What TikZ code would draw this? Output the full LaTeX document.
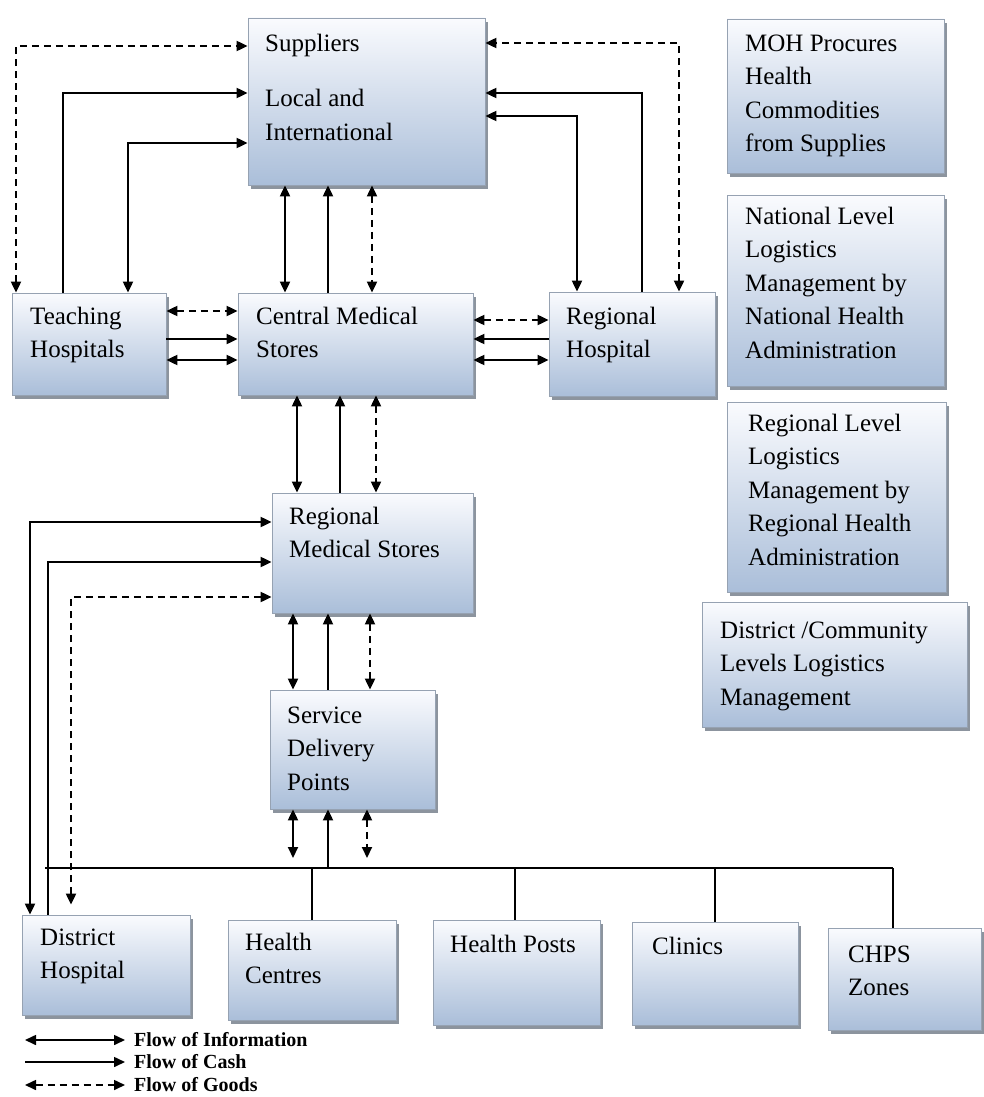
\documentclass[tikz,border=0pt]{standalone}
\usepackage{fontspec}
\setmainfont{Liberation Serif}
\usetikzlibrary{arrows.meta,fit,shadows}
\definecolor{boxtop}{RGB}{250,251,254}
\definecolor{boxbot}{RGB}{170,190,217}
\definecolor{boxline}{RGB}{150,162,178}
\definecolor{shadowc}{RGB}{128,136,148}
\newcommand\tstrut{\rule{0pt}{18pt}}
\tikzset{
 box/.style={draw=boxline, line width=0.8pt, top color=boxtop, bottom color=boxbot, inner sep=0pt,
   drop shadow={shadow xshift=2.5pt, shadow yshift=-4pt, fill=shadowc, opacity=0.9}},
 txt/.style={anchor=north west, inner sep=0pt, align=left, font=\fontsize{25}{33.5}\selectfont, text=black},
 flow/.style={line width=2pt, >={Triangle[length=11pt,width=10pt]}},
 info/.style={flow,<->},
 cash/.style={flow,->},
 goods/.style={flow,<->,dash pattern=on 7pt off 5pt},
 tie/.style={line width=1.8pt},
 legtxt/.style={anchor=west, inner sep=0pt, font=\fontsize{20}{22}\selectfont\bfseries},
}
\begin{document}
\begin{tikzpicture}[x=1pt,y=-1pt]
\useasboundingbox (0,0) rectangle (984,1097);
% boxes
\node[box, fit={(248,18) (485,185)}] (sup) {};
\node[box, fit={(727,19) (944,173)}] (moh) {};
\node[box, fit={(727,195) (944,386)}] (nat) {};
\node[box, fit={(727,402) (946,592)}] (reg) {};
\node[box, fit={(702,602) (967,727)}] (dist) {};
\node[box, fit={(12,293) (166,395)}] (th) {};
\node[box, fit={(238,293) (473,395)}] (cms) {};
\node[box, fit={(549,292) (715,396)}] (rh) {};
\node[box, fit={(272,493) (473,613)}] (rms) {};
\node[box, fit={(270,690) (435,809)}] (sdp) {};
\node[box, fit={(22,915) (190,1015)}] (dh) {};
\node[box, fit={(228,920) (396,1020)}] (hc) {};
\node[box, fit={(433,920) (600,1025)}] (hp) {};
\node[box, fit={(632,922) (798,1025)}] (cl) {};
\node[box, fit={(828,928) (981,1030)}] (chps) {};
% texts
\node[txt] (supT) at (265,33) {\tstrut Suppliers\\[22pt]Local and\\International};
\node[txt] (mohT) at (745,33) {\tstrut MOH Procures\\Health\\Commodities\\from Supplies};
\node[txt] (natT) at (745,206) {\tstrut National Level\\Logistics\\Management by\\National Health\\Administration};
\node[txt] (regT) at (748,413) {\tstrut Regional Level\\Logistics\\Management by\\Regional Health\\Administration};
\node[txt] (distT) at (720,620) {\tstrut District /Community\\Levels Logistics\\Management};
\node[txt] (thT) at (30,306) {\tstrut Teaching\\Hospitals};
\node[txt] (cmsT) at (256,306) {\tstrut Central Medical\\Stores};
\node[txt] (rhT) at (566,306) {\tstrut Regional\\Hospital};
\node[txt] (rmsT) at (289,506) {\tstrut Regional\\Medical Stores};
\node[txt] (sdpT) at (287,705) {\tstrut Service\\Delivery\\Points};
\node[txt] (dhT) at (40,927) {\tstrut District\\Hospital};
\node[txt] (hcT) at (245,932) {\tstrut Health\\Centres};
\node[txt] (hpT) at (450,934) {\tstrut Health Posts};
\node[txt] (clT) at (652,936) {\tstrut Clinics};
\node[txt] (chpsT) at (848,944) {\tstrut CHPS\\Zones};
% teaching hospitals <-> suppliers
\draw[goods] (16,0 |- th.north) |- (sup.west |- 0,46);
\draw[cash] (63,0 |- th.north) |- (sup.west |- 0,93);
\draw[info] (128,0 |- th.north) |- (sup.west |- 0,143);
% regional hospital <-> suppliers
\draw[goods] (679,0 |- rh.north) |- (sup.east |- 0,43);
\draw[cash] (642,0 |- rh.north) |- (sup.east |- 0,93);
\draw[info] (577,0 |- rh.north) |- (sup.east |- 0,116);
% suppliers <-> CMS
\draw[info] (285,0 |- sup.south) -- (285,0 |- cms.north);
\draw[cash] (328,0 |- cms.north) -- (328,0 |- sup.south);
\draw[goods] (372,0 |- sup.south) -- (372,0 |- cms.north);
% TH <-> CMS
\draw[goods] (th.east |- 0,311) -- (cms.west |- 0,311);
\draw[cash] (th.east |- 0,339) -- (cms.west |- 0,339);
\draw[info] (th.east |- 0,360) -- (cms.west |- 0,360);
% CMS <-> RH
\draw[goods] (cms.east |- 0,320) -- (rh.west |- 0,320);
\draw[cash] (rh.west |- 0,339) -- (cms.east |- 0,339);
\draw[info] (cms.east |- 0,360) -- (rh.west |- 0,360);
% CMS <-> RMS
\draw[info] (297,0 |- cms.south) -- (297,0 |- rms.north);
\draw[cash] (340,0 |- rms.north) -- (340,0 |- cms.south);
\draw[goods] (376,0 |- cms.south) -- (376,0 |- rms.north);
% RMS <-> SDP
\draw[info] (293,0 |- rms.south) -- (293,0 |- sdp.north);
\draw[cash] (328,0 |- sdp.north) -- (328,0 |- rms.south);
\draw[goods] (370,0 |- rms.south) -- (370,0 |- sdp.north);
% bus
\coordinate (busL) at (45,868);
\coordinate (busR) at (893,868);
\draw[tie] (busL) -- (busR);
\draw[info, shorten >=10pt] (293,0 |- sdp.south) -- (293,0 |- busL);
\draw[cash] (328,0 |- busL) -- (328,0 |- sdp.south);
\draw[goods, shorten >=10pt] (367,0 |- sdp.south) -- (367,0 |- busL);
\draw[tie] (312,0 |- busL) -- (312,0 |- hc.north);
\draw[tie] (515,0 |- busL) -- (515,0 |- hp.north);
\draw[tie] (715,0 |- busL) -- (715,0 |- cl.north);
\draw[tie] (busR) -- (busR |- chps.north);
% district hospital <-> RMS
\draw[info] (30,0 |- dh.north) |- (rms.west |- 0,522);
\draw[cash] (48,0 |- dh.north) |- (rms.west |- 0,562);
\draw[goods, shorten <=10pt] (71,0 |- dh.north) |- (rms.west |- 0,597);
% legend
\coordinate (l1a) at (25,1040); \coordinate (l1b) at (125,1040);
\coordinate (l2a) at (25,1062); \coordinate (l2b) at (125,1062);
\coordinate (l3a) at (25,1085); \coordinate (l3b) at (125,1085);
\draw[info, line width=1.6pt] (l1a) -- (l1b);
\draw[cash, line width=1.6pt] (l2a) -- (l2b);
\draw[goods, line width=1.6pt] (l3a) -- (l3b);
\node[legtxt] (l1t) at (134,1040) {Flow of Information};
\node[legtxt] (l2t) at (134,1062) {Flow of Cash};
\node[legtxt] (l3t) at (134,1085) {Flow of Goods};
\end{tikzpicture}
\end{document}
